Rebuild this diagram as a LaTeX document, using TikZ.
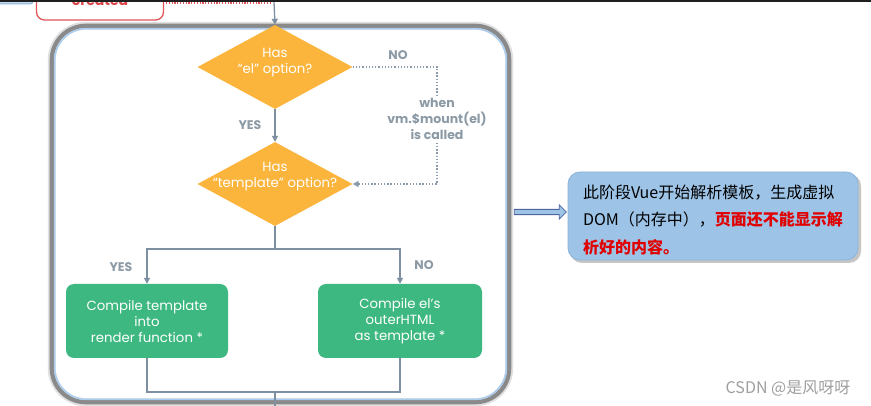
\documentclass[tikz,border=0pt]{standalone}
\usepackage{fontspec}
\setmainfont{Poppins}
\newfontfamily\cjk{Noto Sans CJK SC}
\usetikzlibrary{shapes.geometric,shapes.arrows,arrows.meta}
\definecolor{dia}{HTML}{FBB53D}
\definecolor{grn}{HTML}{3DB880}
\definecolor{conn}{HTML}{7D8FA0}
\definecolor{lbl}{HTML}{8C9AA5}
\definecolor{redb}{HTML}{E0565B}
\definecolor{redt}{HTML}{D84448}
\definecolor{notefill}{HTML}{9DC3E6}
\definecolor{noteline}{HTML}{8DB4DA}
\definecolor{framegray}{HTML}{8A8A8A}
\definecolor{frameblue}{HTML}{A9CDF0}
\definecolor{cnred}{HTML}{E00000}
\begin{document}
\begin{tikzpicture}[x=1pt,y=-1pt,
  diabox/.style={diamond, fill=dia, minimum width=155pt, minimum height=84pt, inner sep=0pt},
  diatext/.style={text=white, align=center, font=\fontsize{13.3}{16}\selectfont, inner sep=0pt},
  greenbox/.style={rectangle, rounded corners=8pt, fill=grn, text=white, align=center,
     font=\fontsize{13.3}{16}\selectfont, inner sep=0pt},
  conn/.style={draw=conn, line width=1.3pt},
  arr/.style={-{Triangle[length=6pt,width=6pt]}},
  dotconn/.style={draw=conn!90, line width=1.3pt, dash pattern=on 1.3pt off 1.9pt},
  lab/.style={text=lbl, font=\bfseries\fontsize{12.5}{16}\selectfont, inner sep=0pt, align=center}]
\useasboundingbox (0,0) rectangle (871,406);
\begin{scope}
\clip (0,0) rectangle (871,406);
\fill[white] (0,0) rectangle (871,406);

% top remnants
\draw[fill=notefill!60, draw=noteline, line width=1pt, rounded corners=3pt] (-10,-20) rectangle (33,4);
\node[draw=redb, line width=1.3pt, fill=white, rounded corners=8pt, minimum width=127pt, minimum height=40pt, inner sep=0pt] (created) at (100,0) {};
\node[anchor=base, text=redt, font=\bfseries\fontsize{14}{14}\selectfont, inner sep=0pt] (createdtext) at (100,6) {created};
\coordinate (reddot) at (166,3);
\coordinate (redend) at (272,3);
\draw[draw=redb, line width=1.3pt, dash pattern=on 1.2pt off 1.6pt] (reddot) -- (redend);
\coordinate (topin) at (273,-20);

% frame
\node[minimum width=457pt, minimum height=376pt, inner sep=0pt] (frame) at (280.5,214) {};
\draw[draw=gray!25, line width=8pt, rounded corners=34pt] (frame.north west) rectangle (frame.south east);
\draw[draw=framegray, line width=4.2pt, rounded corners=34pt] (frame.north west) rectangle (frame.south east);
\draw[draw=frameblue, line width=1.5pt, rounded corners=32pt] ([shift={(2.8pt,-2.8pt)}]frame.north west) rectangle ([shift={(-2.8pt,2.8pt)}]frame.south east);

% diamonds
\node[diabox] (d1) at (275,67) {};
\node[diatext] (d1t) at (275,63) {Has\\“el” option?};
\node[diabox] (d2) at (275,184) {};
\node[diatext] (d2t) at (275,177) {Has\\“template” option?};

\draw[conn, arr] (topin) -- (d1.north);
\draw[conn, arr] (d1.south) -- (d2.north);
\node[lab] (yes1) at (250,125) {YES};
\node[lab] (no1) at (398,55) {NO};

\node[lab, inner sep=3pt] (when) at (437,119) {when\\vm.\$mount(el)\\is called};
\draw[dotconn] (d1.east) -| (when.north);
\draw[dotconn, arr] (when.south) |- (d2.east);

% green boxes
\node[greenbox, minimum width=162pt, minimum height=74pt] (g1) at (147,321) {Compile template\\into\\render function *};
\node[greenbox, minimum width=164pt, minimum height=74pt] (g2) at (400,321) {Compile el’s\\outerHTML\\as template *};

\coordinate (split) at (275,249);
\draw[conn] (d2.south) -- (split);
\draw[conn, arr] (split) -| (g1.north);
\draw[conn, arr] (split) -| (g2.north);
\node[lab] (yes2) at (121,267) {YES};
\node[lab] (no2) at (424,265) {NO};

\coordinate (merge) at (275,392);
\coordinate (out) at (275,420);
\draw[conn] (g1.south) |- (merge);
\draw[conn] (g2.south) |- (merge);
\draw[conn] (merge) -- (out);

% note
\fill[gray!45, rounded corners=12pt] (570,174) rectangle (861,263);
\node[draw=noteline, line width=0.8pt, fill=notefill, rounded corners=12pt, minimum width=290pt, minimum height=88pt, inner sep=0pt] (note) at (713,216) {};
\node[text width=266pt, align=left, inner sep=0pt, font=\cjk\fontsize{16}{27.5}\selectfont] (notetext) at (716,220)
   {此阶段Vue开始解析模板，生成虚拟\\DOM（内存中），\textcolor{cnred}{\bfseries 页面还不能显示解}\\\textcolor{cnred}{\bfseries 析好的内容。}};

\node[single arrow, draw=noteline!80!blue!70!black, fill=notefill, line width=0.8pt, minimum height=52pt, minimum width=14pt,
   single arrow head extend=4pt, single arrow head indent=0pt, inner sep=2pt] (blk) at (539,212) {};

% watermark
\node[text=gray!75, font=\cjk\fontsize{16}{16}\selectfont, inner sep=0pt] (wm) at (788,388) {CSDN @是风呀呀};

% top bar
\fill[black!88] (0,0) rectangle (871,2.2);
\end{scope}
\end{tikzpicture}
\end{document}
